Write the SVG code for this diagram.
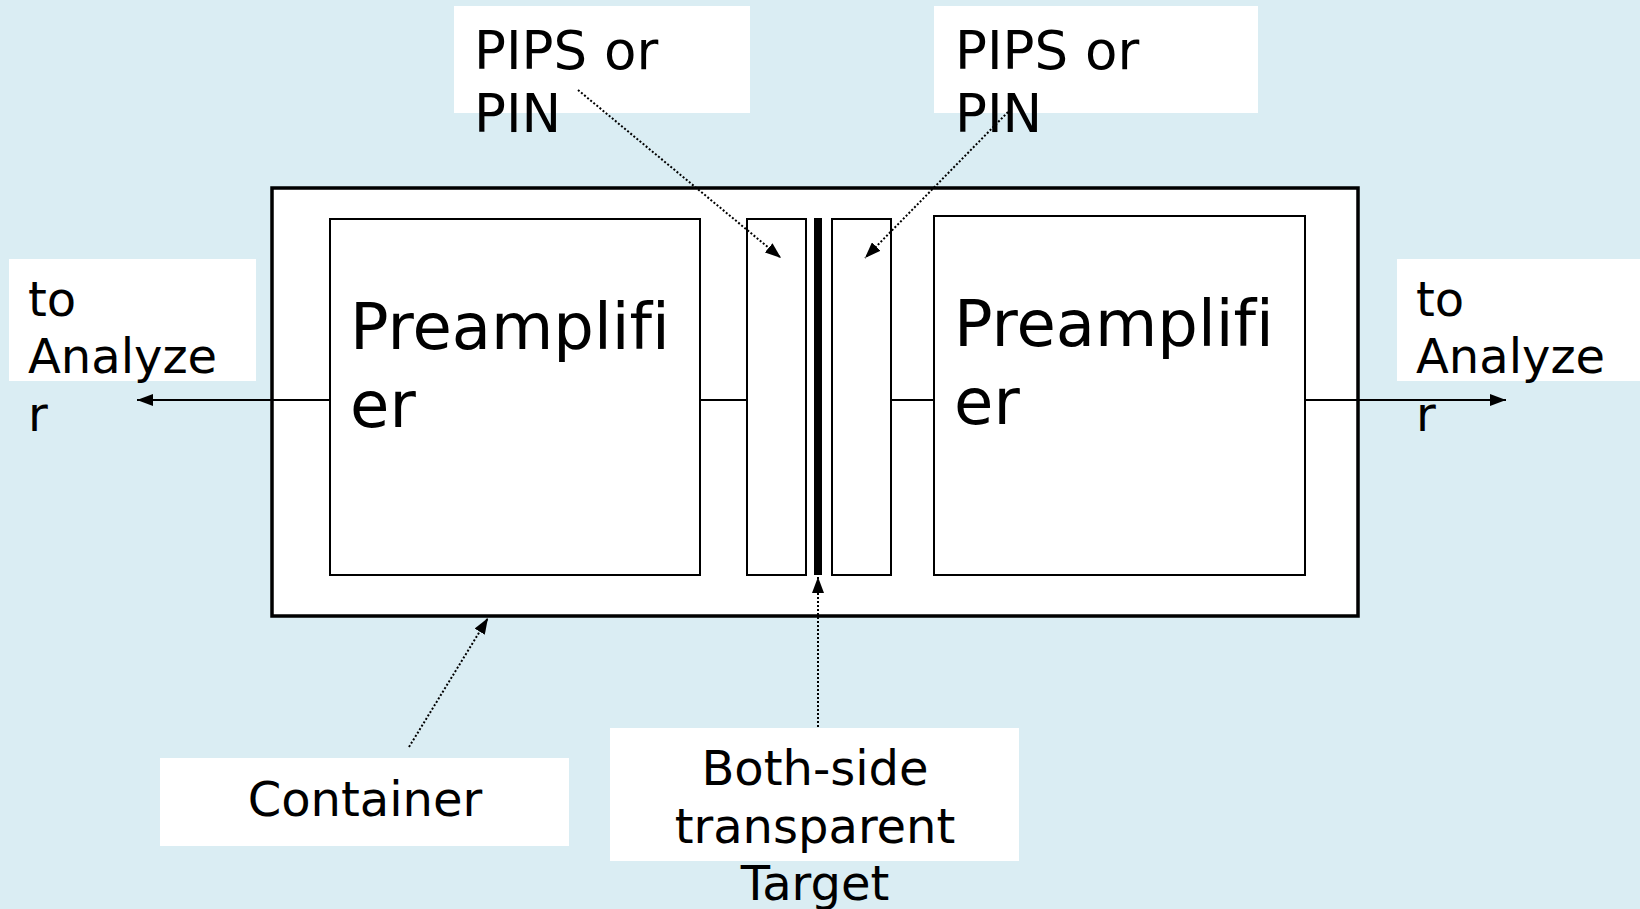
<svg xmlns="http://www.w3.org/2000/svg" width="1640" height="909" viewBox="0 0 1640 909">
<style>
text{font-family:"DejaVu Sans","Noto Sans",sans-serif;fill:#000;font-variant-ligatures:none}
.lbl{fill:#fff;stroke:none}
.box{fill:#fff;stroke:#000;stroke-width:2}
.wire{stroke:#000;stroke-width:2;fill:none}
.dot{stroke:#000;stroke-width:2;stroke-dasharray:2 2;fill:none}
</style>
<defs>
<marker id="ah" markerWidth="16" markerHeight="12" refX="16" refY="6" orient="auto" markerUnits="userSpaceOnUse"><path d="M0,0 L16,6 L0,12 z" fill="#000"/></marker>
</defs>
<rect x="0" y="0" width="1640" height="909" fill="#DAEDF3"/>
<g id="container">
<rect x="272" y="188" width="1086" height="428" fill="#fff" stroke="#000" stroke-width="3.5"/>
</g>
<g id="preamp-left">
<rect class="box" x="330" y="219" width="370" height="356"/>
<text x="350" y="349" font-size="64">Preamplifi</text>
<text x="350" y="427" font-size="64">er</text>
</g>
<g id="preamp-right">
<rect class="box" x="934" y="216" width="371" height="359"/>
<text x="954" y="346" font-size="64">Preamplifi</text>
<text x="954" y="424" font-size="64">er</text>
</g>
<g id="detector-left">
<rect class="box" x="747" y="219" width="59" height="356"/>
</g>
<g id="target">
<rect x="814" y="218" width="8" height="357" fill="#000"/>
</g>
<g id="detector-right">
<rect class="box" x="832" y="219" width="59" height="356"/>
</g>
<g id="label-pips-left">
<rect class="lbl" x="454" y="6" width="296" height="107"/>
<text x="474" y="69" font-size="53">PIPS or</text>
<text x="474" y="132" font-size="53">PIN</text>
</g>
<g id="label-pips-right">
<rect class="lbl" x="934" y="6" width="324" height="107"/>
<text x="955" y="69" font-size="53">PIPS or</text>
<text x="955" y="132" font-size="53">PIN</text>
</g>
<g id="label-analyzer-left">
<rect class="lbl" x="9" y="259" width="247" height="122"/>
<text x="28" y="316" font-size="48">to</text>
<text x="28" y="373" font-size="48">Analyze</text>
<text x="28" y="431" font-size="48">r</text>
</g>
<g id="label-analyzer-right">
<rect class="lbl" x="1397" y="259" width="243" height="122"/>
<text x="1416" y="316" font-size="48">to</text>
<text x="1416" y="373" font-size="48">Analyze</text>
<text x="1416" y="431" font-size="48">r</text>
</g>
<g id="label-container">
<rect class="lbl" x="160" y="758" width="409" height="88"/>
<text x="365" y="816" font-size="48" text-anchor="middle">Container</text>
</g>
<g id="label-target">
<rect class="lbl" x="610" y="728" width="409" height="133"/>
<text x="815" y="785" font-size="48" text-anchor="middle">Both-side</text>
<text x="815" y="843" font-size="48" text-anchor="middle">transparent</text>
<text x="815" y="900" font-size="48" text-anchor="middle">Target</text>
</g>
<g id="connectors">
<line class="wire" x1="330" y1="400" x2="137" y2="400" marker-end="url(#ah)"/>
<line class="wire" x1="700" y1="400" x2="747" y2="400"/>
<line class="wire" x1="891" y1="400" x2="934" y2="400"/>
<line class="wire" x1="1305" y1="400" x2="1506" y2="400" marker-end="url(#ah)"/>
<line class="dot" x1="578" y1="90" x2="781" y2="258" marker-end="url(#ah)"/>
<line class="dot" x1="1008" y1="112" x2="865" y2="258" marker-end="url(#ah)"/>
<line class="dot" x1="409" y1="747" x2="488" y2="618" marker-end="url(#ah)"/>
<line class="dot" x1="818" y1="727" x2="818" y2="577" marker-end="url(#ah)"/>
</g>
</svg>
